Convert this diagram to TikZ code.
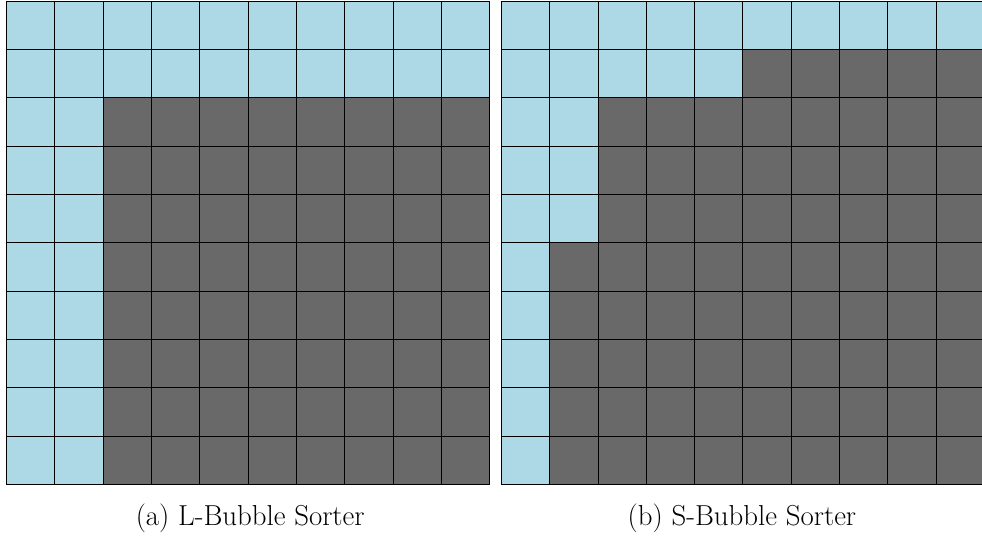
\documentclass[tikz,border=0pt]{standalone}
\usetikzlibrary{positioning}
\definecolor{sortblue}{HTML}{ADD8E6}
\definecolor{sortgray}{HTML}{696969}

\begin{document}
\begin{tikzpicture}[
    cell/.style={draw=black, line width=0.5pt},
    bcell/.style={cell, fill=sortblue},
    gcell/.style={cell, fill=sortgray},
    captext/.style={font=\fontsize{17}{20}\selectfont, anchor=base}]
  \useasboundingbox (0,0) rectangle (20.33,-11.14);
  \begin{scope}
    \clip (0,0) rectangle (20.33,-11.14);
    % (a) L-shape: row / number of blue cells in that row
    \begin{scope}[shift={(0.135,-0.027)}]
      \foreach \r/\k in {0/10,1/10,2/2,3/2,4/2,5/2,6/2,7/2,8/2,9/2}
        \foreach \c in {0,...,9} {
          \ifnum\c<\k \def\st{bcell}\else\def\st{gcell}\fi
          \draw[\st] (\c,-\r) rectangle ++(1,-1);
        }
    \end{scope}
    % (b) S-shape
    \begin{scope}[shift={(10.379,-0.027)}]
      \foreach \r/\k in {0/10,1/5,2/2,3/2,4/2,5/1,6/1,7/1,8/1,9/1}
        \foreach \c in {0,...,9} {
          \ifnum\c<\k \def\st{bcell}\else\def\st{gcell}\fi
          \draw[\st] (\c,-\r) rectangle ++(1,-1);
        }
    \end{scope}
  \end{scope}
  \node[captext] (capa) at (5.18,-10.88) {(a) L-Bubble Sorter};
  \node[captext] (capb) at (15.36,-10.88) {(b) S-Bubble Sorter};
\end{tikzpicture}
\end{document}
